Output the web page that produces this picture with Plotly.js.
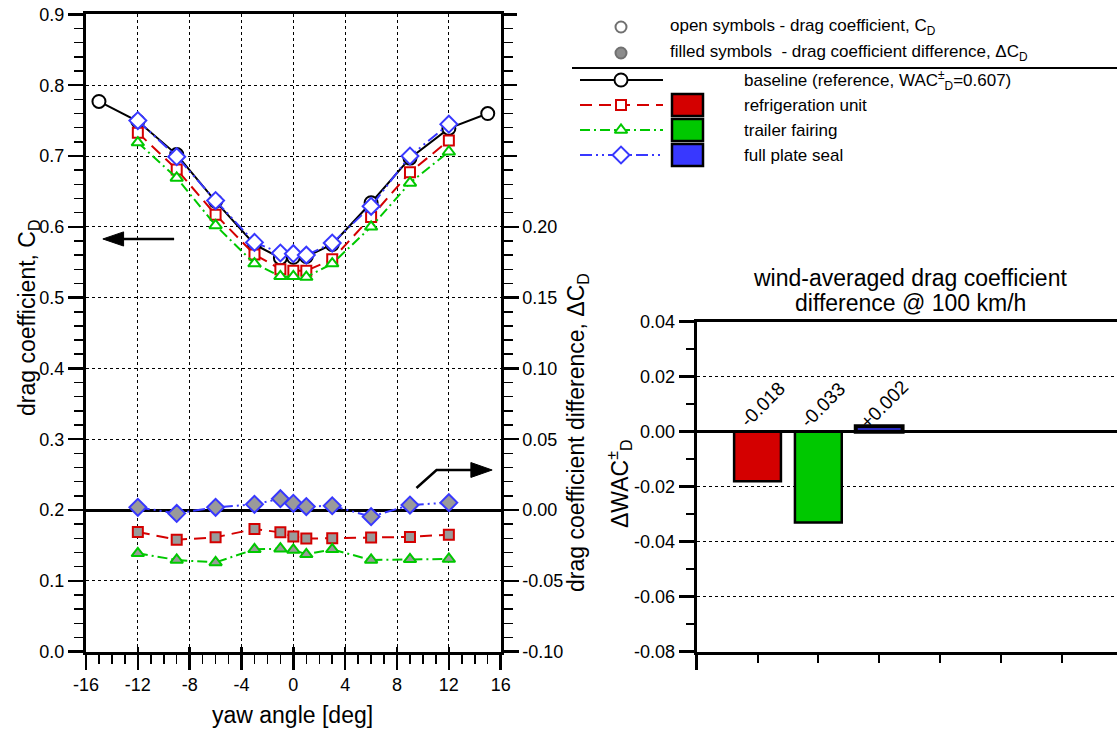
<!DOCTYPE html>
<html>
<head>
<meta charset="utf-8">
<script src="https://cdn.plot.ly/plotly-3.0.1.min.js"></script>
<style>
  html, body { margin: 0; padding: 0; background: #fff; }
  #chart { width: 1117px; height: 731px; }
</style>
</head>
<body>
<div id="chart"></div>
<script>
// ---- yaw sweep: drag coefficient C_D ----
const yawBaseline = [-15, -12, -9, -6, -3, -1, 0, 1, 3, 6, 9, 12, 15];
const cdBaseline  = [0.777, 0.749, 0.702, 0.636, 0.575, 0.556, 0.557, 0.558, 0.575, 0.634, 0.697, 0.739, 0.760];

const yawConfig       = [-12, -9, -6, -3, -1, 0, 1, 3, 6, 9, 12];
const cdRefrigeration = [0.733, 0.681, 0.617, 0.561, 0.540, 0.538, 0.538, 0.554, 0.614, 0.677, 0.722];
const cdFairing       = [0.719, 0.669, 0.602, 0.548, 0.530, 0.530, 0.529, 0.548, 0.600, 0.662, 0.706];
const cdSeal          = [0.750, 0.699, 0.637, 0.578, 0.563, 0.562, 0.560, 0.577, 0.629, 0.700, 0.745];

// ---- yaw sweep: difference to baseline, delta C_D ----
const dcdRefrigeration = [-0.0155, -0.0210, -0.0193, -0.0134, -0.0158, -0.0188, -0.0202, -0.0200, -0.0195, -0.0190, -0.0174];
const dcdFairing       = [-0.0306, -0.0353, -0.0370, -0.0278, -0.0273, -0.0282, -0.0313, -0.0278, -0.0353, -0.0348, -0.0346];
const dcdSeal          = [0.0019, -0.0024, 0.0019, 0.0040, 0.0080, 0.0047, 0.0024, 0.0030, -0.0047, 0.0035, 0.0052];

// ---- wind-averaged drag coefficient difference @ 100 km/h ----
const configNames = ['refrigeration unit', 'trailer fairing', 'full plate seal'];
const configSlots = [1, 2, 3];
const dwac        = [-0.018, -0.033, 0.002];
const dwacLabels  = ['-0.018', '-0.033', '+0.002'];

// ---- tick labels ----
const yawTicks     = [-16, -12, -8, -4, 0, 4, 8, 12, 16];
const yawTickText  = ['-16', '-12', '-8', '-4', '0', '4', '8', '12', '16'];
const cdTicks      = [0, 0.1, 0.2, 0.3, 0.4, 0.5, 0.6, 0.7, 0.8, 0.9];
const cdTickText   = ['0.0', '0.1', '0.2', '0.3', '0.4', '0.5', '0.6', '0.7', '0.8', '0.9'];
const dcdTicks     = [-0.1, -0.05, 0, 0.05, 0.1, 0.15, 0.2];
const dcdTickText  = ['-0.10', '-0.05', '0.00', '0.05', '0.10', '0.15', '0.20'];
const dcdUpperTicks = [0.25, 0.3, 0.35];
const wacTicks     = [-0.08, -0.06, -0.04, -0.02, 0, 0.02, 0.04];
const wacTickText  = ['-0.08', '-0.06', '-0.04', '-0.02', '0.00', '0.02', '0.04'];

// ---- styling ----
const FONT = 'Liberation Sans, Arial, Helvetica, sans-serif';
const RED = '#d40000', GREEN = '#00c800', BLUE = '#3838ff', GREY = '#9a9a9a';
const DASH_RED = '12px,7px';
const DASH_GREEN = '10px,4px,2px,4px';
const DASH_BLUE = '12px,4px,2px,4px,2px,4px';

function curve(x, y, color, dash, symbol, size, axis, fill) {
  return {
    type: 'scatter', mode: 'lines+markers', x: x, y: y,
    xaxis: 'x', yaxis: axis,
    line: { color: color, width: 2, dash: dash },
    marker: { symbol: symbol, size: size, color: fill, line: { color: color, width: 2 } },
    hoverinfo: 'skip', cliponaxis: false
  };
}

const traces = [
  // drag coefficient, open symbols
  curve(yawBaseline, cdBaseline, '#000', 'solid', 'circle', 13, 'y', '#fff'),
  curve(yawConfig, cdRefrigeration, RED, DASH_RED, 'square', 10, 'y', '#fff'),
  curve(yawConfig, cdFairing, GREEN, DASH_GREEN, 'triangle-up', 11, 'y', '#fff'),
  curve(yawConfig, cdSeal, BLUE, DASH_BLUE, 'diamond', 13, 'y', '#fff'),
  // drag coefficient difference, filled symbols
  curve(yawConfig, dcdRefrigeration, RED, DASH_RED, 'square', 10, 'y2', GREY),
  curve(yawConfig, dcdFairing, GREEN, DASH_GREEN, 'triangle-up', 11, 'y2', GREY),
  curve(yawConfig, dcdSeal, BLUE, DASH_BLUE, 'diamond', 13, 'y2', GREY),
  // carriers for the extra tick-only axes
  { type: 'scatter', mode: 'markers', x: [], y: [], xaxis: 'x3', yaxis: 'y', hoverinfo: 'skip' },
  { type: 'scatter', mode: 'markers', x: [], y: [], xaxis: 'x', yaxis: 'y5', hoverinfo: 'skip' },
  // wind-averaged bars
  {
    type: 'bar', x: configSlots, y: dwac, xaxis: 'x2', yaxis: 'y3', width: 0.77,
    marker: { color: [RED, GREEN, BLUE], line: { color: '#000', width: [2.5, 2.5, 4] } },
    hoverinfo: 'skip'
  }
];

// ---- key (drawn on a pixel-scaled canvas axis pair) ----
const keyRows = [80, 105, 130, 155];
const keyStyles = [
  { color: '#000', dash: 'solid', symbol: 'circle', size: 13 },
  { color: RED, dash: DASH_RED, symbol: 'square', size: 10 },
  { color: GREEN, dash: DASH_GREEN, symbol: 'triangle-up', size: 11 },
  { color: BLUE, dash: DASH_BLUE, symbol: 'diamond', size: 13 }
];
const keyText = ['baseline (reference, WAC<sup>±</sup><sub>D</sub>=0.607)'].concat(configNames);

keyStyles.forEach((s, i) => {
  traces.push({
    type: 'scatter', mode: 'lines', x: [580, 663], y: [keyRows[i], keyRows[i]],
    xaxis: 'x4', yaxis: 'y4', line: { color: s.color, width: 2, dash: s.dash }, hoverinfo: 'skip'
  });
  traces.push({
    type: 'scatter', mode: 'markers', x: [621], y: [keyRows[i]],
    xaxis: 'x4', yaxis: 'y4',
    marker: { symbol: s.symbol, size: s.size, color: '#fff', line: { color: s.color, width: 2 } },
    hoverinfo: 'skip'
  });
});
traces.push({
  type: 'scatter', mode: 'markers', x: [621, 621], y: [27, 53], xaxis: 'x4', yaxis: 'y4',
  marker: { symbol: 'circle', size: 11, color: ['#fff', '#8c8c8c'], line: { color: '#707070', width: 2 } },
  hoverinfo: 'skip'
});

const shapes = [
  { type: 'line', xref: 'x4', yref: 'y4', x0: 572, x1: 1117, y0: 68, y1: 68, line: { color: '#000', width: 2 } },
  // arrow pointing at the left-hand axis
  { type: 'line', xref: 'x', yref: 'y', x0: -9.2, y0: 0.5828, x1: -13.3, y1: 0.5828, line: { color: '#000', width: 2.5 } },
  { type: 'path', xref: 'x', yref: 'y', path: 'M -14.7 0.5828 L -13.1 0.5928 L -13.1 0.5728 Z', fillcolor: '#000', line: { color: '#000', width: 1 } },
  // bent arrow pointing at the right-hand axis
  { type: 'path', xref: 'x', yref: 'y', path: 'M 9.5 0.231 L 11.05 0.2565 L 13.9 0.2565', line: { color: '#000', width: 2.5 } },
  { type: 'path', xref: 'x', yref: 'y', path: 'M 15.34 0.2565 L 13.7 0.2670 L 13.7 0.2460 Z', fillcolor: '#000', line: { color: '#000', width: 1 } }
];
[RED, GREEN, BLUE].forEach((c, i) => {
  const r = keyRows[i + 1];
  shapes.push({
    type: 'rect', xref: 'x4', yref: 'y4', x0: 672, x1: 703, y0: r - 11, y1: r + 11,
    fillcolor: c, line: { color: '#000', width: 2.5 }
  });
});

function txt(x, y, text, size, opts) {
  return Object.assign({
    xref: 'x4', yref: 'y4', x: x, y: y, text: text, showarrow: false,
    font: { family: FONT, size: size, color: '#000' }, xanchor: 'center', yanchor: 'middle'
  }, opts || {});
}

const annotations = [
  txt(668, 27, 'open symbols - drag coefficient, C<sub>D</sub>', 17, { xanchor: 'left' }),
  txt(668, 53, 'filled symbols  - drag coefficient difference, ΔC<sub>D</sub>', 17, { xanchor: 'left' }),
  txt(292, 715, 'yaw angle [deg]', 23),
  txt(28, 318, 'drag coefficient, C<sub>D</sub>', 23, { textangle: -90 }),
  txt(577, 433, 'drag coefficient difference, ΔC<sub>D</sub>', 23, { textangle: -90 }),
  txt(910, 278, 'wind-averaged drag coefficient', 23),
  txt(910, 303, 'difference @ 100 km/h', 23),
  txt(619, 484, 'ΔWAC<sup>±</sup><sub>D</sub>', 23, { textangle: -90 })
];
keyText.forEach((t, i) => annotations.push(txt(742, keyRows[i], t, 17, { xanchor: 'left' })));
dwacLabels.forEach((t, i) => annotations.push({
  xref: 'x2', yref: 'y3', x: configSlots[i], y: 0, text: t, showarrow: false, textangle: -45,
  xanchor: 'center', yanchor: 'middle', xshift: 5, yshift: 27,
  font: { family: FONT, size: 19, color: '#000' }
}));

const tickFont = { family: FONT, size: 18, color: '#000' };
const W = 1117, H = 731;
const leftDomX = [86 / W, 500.7 / W];
const leftDomY = [(H - 651.6) / H, (H - 14.4) / H];
const barDomX = [696.7 / W, 1];
const barDomY = [(H - 651.7) / H, (H - 321.7) / H];

const axisBase = {
  showline: true, linecolor: '#000', linewidth: 3,
  ticks: 'outside', ticklen: 15, tickwidth: 2.5, tickcolor: '#000',
  tickfont: tickFont, tickmode: 'array', zeroline: false, fixedrange: true
};
const dotGrid = { showgrid: true, gridcolor: '#000', gridwidth: 1, griddash: 'dot' };
const minorTicks = (dtick, len) => ({
  tickmode: 'linear', tick0: 0, dtick: dtick, ticks: 'outside', ticklen: len,
  tickwidth: 1.5, tickcolor: '#000', showgrid: false
});

const layout = {
  width: W, height: H, autosize: false,
  margin: { l: 0, r: 0, t: 0, b: 0, pad: 0 },
  paper_bgcolor: '#fff', plot_bgcolor: 'rgba(0,0,0,0)',
  showlegend: false, font: { family: FONT, color: '#000' },
  xaxis: Object.assign({}, axisBase, dotGrid, {
    domain: leftDomX, range: [-16, 16], anchor: 'y', mirror: true,
    tickvals: yawTicks, ticktext: yawTickText, minor: minorTicks(1, 9)
  }),
  xaxis3: {
    domain: leftDomX, range: [-16, 16], overlaying: 'x', anchor: 'y', side: 'bottom',
    tickmode: 'array', tickvals: yawTicks, ticks: 'inside', ticklen: 5, tickwidth: 2.5, tickcolor: '#000',
    showticklabels: false, showgrid: false, zeroline: false, showline: false, fixedrange: true
  },
  yaxis: Object.assign({}, axisBase, dotGrid, {
    domain: leftDomY, range: [0, 0.9], anchor: 'x',
    tickvals: cdTicks, ticktext: cdTickText, minor: minorTicks(0.02, 9)
  }),
  yaxis2: Object.assign({}, axisBase, {
    overlaying: 'y', side: 'right', anchor: 'x', range: [-0.1, 0.35],
    tickvals: dcdTicks, ticktext: dcdTickText, showgrid: false,
    zeroline: true, zerolinecolor: '#000', zerolinewidth: 3, minor: minorTicks(0.01, 9)
  }),
  yaxis5: {
    overlaying: 'y', side: 'right', anchor: 'x', range: [-0.1, 0.35],
    tickmode: 'array', tickvals: dcdUpperTicks, ticks: 'outside', ticklen: 15, tickwidth: 2.5, tickcolor: '#000',
    showticklabels: false, showgrid: false, zeroline: false, showline: false, fixedrange: true
  },
  xaxis2: Object.assign({}, axisBase, {
    domain: barDomX, range: [0, 6.91], anchor: 'y3', mirror: true, showgrid: false,
    tickvals: [0], showticklabels: false, minor: Object.assign(minorTicks(1, 8), { tickwidth: 2 })
  }),
  yaxis3: Object.assign({}, axisBase, dotGrid, {
    domain: barDomY, range: [-0.08, 0.04], anchor: 'x2',
    tickvals: wacTicks, ticktext: wacTickText,
    zeroline: true, zerolinecolor: '#000', zerolinewidth: 3, minor: minorTicks(0.01, 8)
  }),
  xaxis4: { domain: [0, 1], range: [0, W], anchor: 'y4', visible: false, fixedrange: true },
  yaxis4: { domain: [0, 1], range: [H, 0], anchor: 'x4', visible: false, fixedrange: true },
  shapes: shapes,
  annotations: annotations
};

Plotly.newPlot('chart', traces, layout, { staticPlot: true, displayModeBar: false });
</script>
</body>
</html>
